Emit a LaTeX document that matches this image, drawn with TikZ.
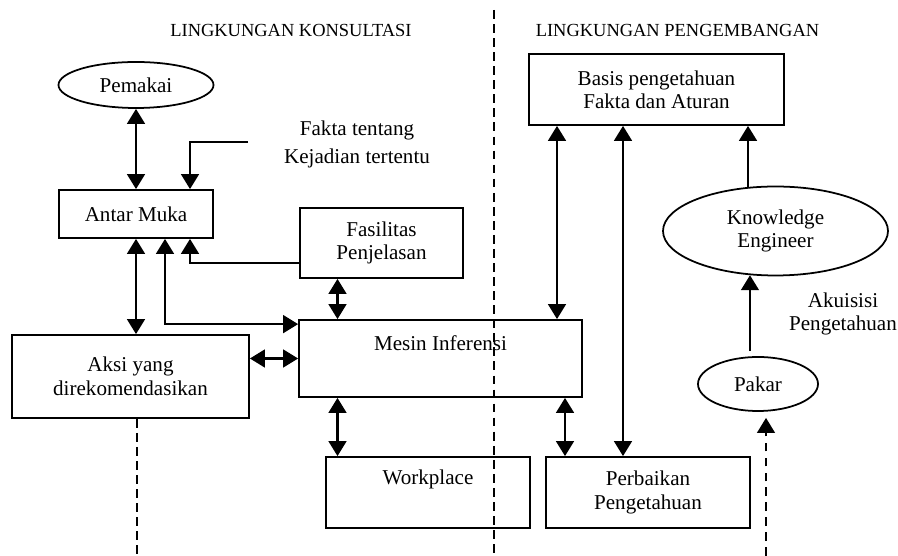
\documentclass[tikz,border=0pt]{standalone}
\usepackage{fontspec}
\setmainfont{Liberation Serif}
\usetikzlibrary{shapes.geometric,arrows.meta}

\begin{document}
\begin{tikzpicture}[
  font=\fontsize{12}{13.5}\selectfont,
  kotak/.style={draw, line width=1pt, align=center, inner sep=0pt},
  elips/.style={draw, ellipse, line width=1pt, align=center, inner sep=0pt},
  panah/.style={line width=1.5pt, -{Triangle[length=8.5pt,width=10pt]}},
  panahdua/.style={line width=1.5pt, {Triangle[length=8.5pt,width=10pt]}-{Triangle[length=8.5pt,width=10pt]}},
  batas/.style={line width=0.7pt, dash pattern=on 5pt off 3pt},
  judul/.style={font=\fontsize{10.5}{12}\selectfont, anchor=base}
]
  \useasboundingbox (0,0) rectangle (17.96,11.12);

  % lingkungan konsultasi
  \node[judul] (jkons) at (5.82,10.38) {LINGKUNGAN KONSULTASI};
  \node[elips, minimum width=3.10cm, minimum height=0.92cm] (pemakai) at (2.72,9.42) {Pemakai};
  \node[kotak, minimum width=3.08cm, minimum height=0.96cm] (antar) at (2.72,6.84) {Antar Muka};
  \node[align=center, font=\fontsize{12}{16}\selectfont] (fakta) at (7.14,8.24) {Fakta tentang\\Kejadian tertentu};
  \node[kotak, minimum width=3.26cm, minimum height=1.40cm] (fasilitas) at (7.63,6.26) {Fasilitas\\Penjelasan};
  \node[kotak, minimum width=4.74cm, minimum height=1.66cm] (aksi) at (2.61,3.59) {Aksi yang\\direkomendasikan};
  \node[kotak, minimum width=5.66cm, minimum height=1.54cm] (mesin) at (8.81,3.95) {Mesin Inferensi\\\strut};
  \node[kotak, minimum width=4.08cm, minimum height=1.42cm] (workplace) at (8.56,1.27) {Workplace\\\strut};

  % lingkungan pengembangan
  \node[judul] (jkemb) at (13.55,10.38) {LINGKUNGAN PENGEMBANGAN};
  \node[kotak, minimum width=5.10cm, minimum height=1.42cm, font=\fontsize{12}{13}\selectfont] (basis) at (13.13,9.33) {Basis pengetahuan\\Fakta dan Aturan};
  \node[elips, minimum width=4.50cm, minimum height=1.78cm] (ke) at (15.51,6.50) {Knowledge\\Engineer};
  \node[align=center] (akuisisi) at (16.86,4.84) {Akuisisi\\Pengetahuan};
  \node[elips, minimum width=2.40cm, minimum height=1.08cm] (pakar) at (15.16,3.44) {Pakar};
  \node[kotak, minimum width=4.08cm, minimum height=1.42cm] (perbaikan) at (12.96,1.27) {Perbaikan\\Pengetahuan};

  \coordinate (faktaujung) at (4.96,8.28);
  \coordinate (aksibawah) at (2.74,0);
  \coordinate (pakarbawah) at (15.32,0);
  \coordinate (pakaratas) at ([yshift=0.1cm]pakar.north);
  \coordinate (batasatas) at (9.88,10.92);
  \coordinate (batasbawah) at (9.88,0);

  \draw[panahdua] (pemakai.south) -- (antar.north);
  \draw[panah] (faktaujung) -| ([xshift=1.08cm]antar.north);
  \draw[panahdua] (antar.south) -- (antar.south |- aksi.north);
  \draw[panahdua] ([xshift=0.58cm]antar.south) |- ([yshift=-0.1cm]mesin.north west);
  \draw[panah] ([yshift=-0.4cm]fasilitas.west) -| ([xshift=1.08cm]antar.south);
  \draw[panahdua] (mesin.west) -- (mesin.west -| aksi.east);
  \draw[panahdua] ([xshift=-0.88cm]fasilitas.south) -- ([xshift=-0.88cm]fasilitas.south |- mesin.north);
  \draw[panahdua] ([xshift=-2.06cm]mesin.south) -- ([xshift=-2.06cm]mesin.south |- workplace.north);
  \draw[panahdua] ([xshift=-1.99cm]basis.south) -- ([xshift=-1.99cm]basis.south |- mesin.north);
  \draw[panahdua] ([xshift=-0.67cm]basis.south) -- ([xshift=-0.67cm]basis.south |- perbaikan.north);
  \draw[panahdua] ([xshift=2.49cm]mesin.south) -- ([xshift=2.49cm]mesin.south |- perbaikan.north);
  \draw[panah] (ke.122) -- (ke.122 |- basis.south);
  \draw[panah] (pakaratas -| ke.240) -- (ke.240);
  \draw[panah, line width=1.2pt, dash pattern=on 5pt off 3.5pt] (pakarbawah) -- ([yshift=-0.12cm]pakar.south -| pakarbawah);

  \draw[batas] (aksi.south -| aksibawah) -- (aksibawah);
  \draw[batas] (batasatas) -- (batasbawah);
\end{tikzpicture}
\end{document}
